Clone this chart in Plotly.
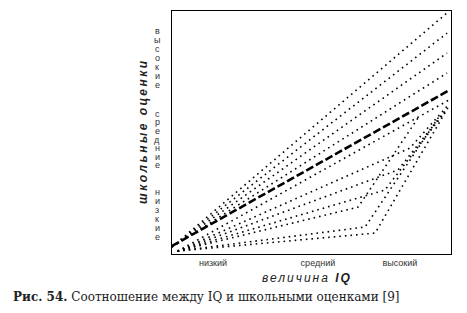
import plotly.graph_objects as go

# ---- data (IQ level on x, school grades on y; arbitrary 0-10 scale) ----
upper_x = [[0.0, 9.86], [0.0, 9.86], [0.0, 9.86], [0.0, 9.86]]
upper_y = [[0.29, 9.92], [0.29, 9.09], [0.29, 8.27], [0.29, 7.45]]

mean_x = [0.0, 9.89]
mean_y = [0.33, 6.71]

lower_x = [
    [0.2, 9.93],
    [0.2, 8.53, 9.93],
    [0.2, 8.10, 9.86],
    [0.2, 7.63, 9.78],
    [0.2, 6.67, 8.89],
    [0.2, 6.92, 9.60],
    [0.2, 7.28, 9.93],
]
lower_y = [
    [0.12, 6.34],
    [0.12, 4.36, 6.17],
    [0.12, 3.46, 6.00],
    [0.12, 2.63, 5.84],
    [0.12, 1.93, 5.72],
    [0.12, 1.11, 5.70],
    [0.12, 0.86, 6.10],
]

x_tick_vals = [1.47, 5.23, 8.17]
x_tick_text = ["низкий", "средний", "высокий"]

y_groups = ["высокие", "средние", "низкие"]

x_title = "величина"
x_title_b = "IQ"
y_title = "школьные оценки"
caption_b = "Рис. 54."
caption = "Соотношение между IQ и школьными оценками [9]"

# ---- geometry of the plot area in pixels (for placing annotations) ----
L, R, T, B = 172, 451, 11, 254
W, H = R - L, B - T


def px(xp):
    return (xp - L) / W


def py(yp):
    return (B - yp) / H


dot = dict(color="black", width=1.6, dash="1.6px,4px")

fig = go.Figure()
for xs, ys in zip(upper_x, upper_y):
    fig.add_trace(go.Scatter(x=xs, y=ys, mode="lines", line=dot, hoverinfo="skip"))
for xs, ys in zip(lower_x, lower_y):
    fig.add_trace(go.Scatter(x=xs, y=ys, mode="lines", line=dot, hoverinfo="skip"))
fig.add_trace(go.Scatter(x=mean_x, y=mean_y, mode="lines",
                         line=dict(color="black", width=2.6, dash="8px,3px"), hoverinfo="skip"))

group_top_px = [31, 114, 192]
group_step_px = [9.0, 8.5, 9.0]
for word, top, step in zip(y_groups, group_top_px, group_step_px):
    for i, ch in enumerate(word):
        fig.add_annotation(x=px(157), y=py(top + i * step), xref="paper", yref="paper",
                           xanchor="center", yanchor="middle", borderpad=0,
                           text=ch, showarrow=False,
                           font=dict(family="Liberation Sans, Arial", size=9, color="#333"))

fig.add_annotation(x=px(143), y=py(131), xref="paper", yref="paper",
                   xanchor="center", yanchor="middle", borderpad=0,
                   text=f'<span style="letter-spacing:2.5px">{y_title}</span>',
                   textangle=-90, showarrow=False,
                   font=dict(family="Liberation Sans, Arial", size=12, color="#222",
                             style="italic", weight="bold"))

fig.add_annotation(x=px(307), y=py(278), xref="paper", yref="paper",
                   xanchor="center", yanchor="middle",
                   text=f'<span style="letter-spacing:2px">{x_title} <b>{x_title_b}</b></span>',
                   showarrow=False,
                   font=dict(family="Liberation Sans, Arial", size=12, color="#222",
                             style="italic"))

fig.add_annotation(x=px(11), y=py(297), xref="paper", yref="paper",
                   xanchor="left", yanchor="middle",
                   text=f"<b>{caption_b}</b> {caption}", showarrow=False,
                   font=dict(family="DejaVu Serif", size=12, color="#222"))

fig.update_layout(
    width=467, height=313,
    margin=dict(l=L, r=467 - R, t=T, b=313 - B),
    paper_bgcolor="white", plot_bgcolor="white",
    showlegend=False,
    xaxis=dict(range=[0, 10], showgrid=False, zeroline=False,
               tickvals=x_tick_vals, ticktext=x_tick_text, ticks="",
               tickfont=dict(family="Liberation Sans, Arial", size=9, color="#333"),
               showline=True, linecolor="black", linewidth=1, mirror=True),
    yaxis=dict(range=[0, 10], showgrid=False, zeroline=False, showticklabels=False,
               ticks="", showline=True, linecolor="black", linewidth=1, mirror=True),
)

fig.write_html("out.html")
